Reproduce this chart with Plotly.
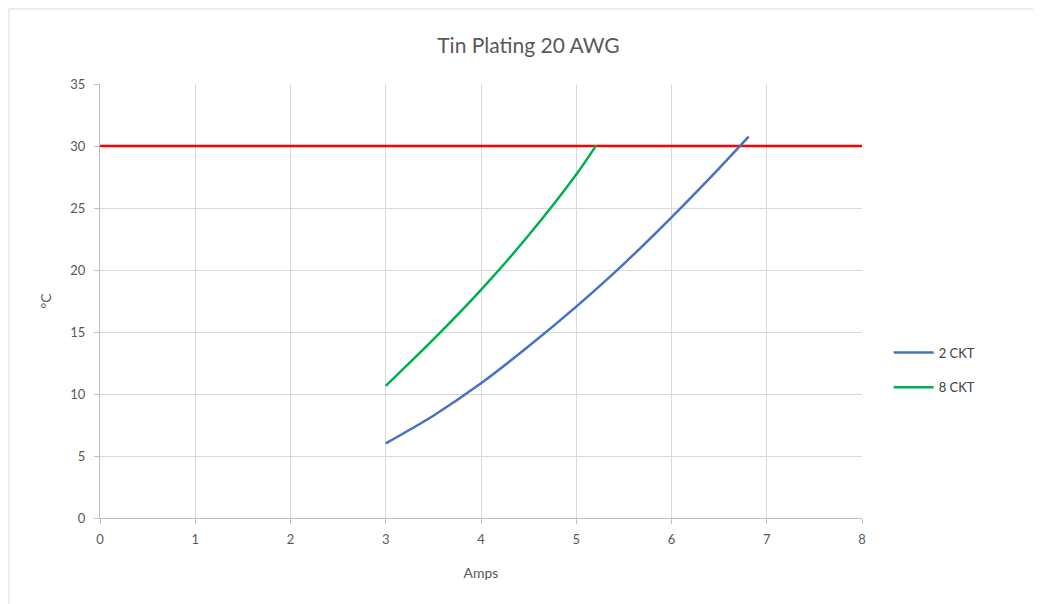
import plotly.graph_objects as go

amps_2ckt = [3.0, 3.5, 4.0, 4.5, 5.0, 5.5, 6.0, 6.5, 6.81]
temp_2ckt = [6.02, 8.25, 10.86, 13.85, 17.05, 20.5, 24.25, 28.2, 30.75]

amps_8ckt = [3.0, 3.5, 4.0, 4.5, 5.0, 5.21]
temp_8ckt = [10.65, 14.4, 18.4, 22.8, 27.7, 30.05]

limit_x = [0, 8]
limit_y = [30, 30]

FONT = "Lato"
GRAY = "#595959"

fig = go.Figure()
fig.add_trace(go.Scatter(x=limit_x, y=limit_y, mode="lines",
                         line=dict(color="#ff0000", width=2.5),
                         showlegend=False, hoverinfo="skip"))
fig.add_trace(go.Scatter(x=amps_2ckt, y=temp_2ckt, mode="lines", name="2 CKT",
                         legendgroup="a",
                         line=dict(color="#4472c4", width=2.5, shape="spline", smoothing=0.8)))
fig.add_trace(go.Scatter(x=amps_8ckt, y=temp_8ckt, mode="lines", name="8 CKT",
                         legendgroup="b",
                         line=dict(color="#00b050", width=2.5, shape="spline", smoothing=0.8)))

axis_common = dict(showgrid=True, gridcolor="#d9d9d9", gridwidth=1,
                   showline=True, linecolor="#bfbfbf", linewidth=1,
                   ticks="outside", tickcolor="#bfbfbf", ticklen=5,
                   tickfont=dict(family=FONT, size=13, color=GRAY),
                   zeroline=False)

fig.update_layout(
    width=1041, height=604,
    margin=dict(l=92, r=187, t=76, b=94),
    paper_bgcolor="white", plot_bgcolor="white",
    title=dict(text="Tin Plating 20 AWG", x=0.5, xanchor="center",
               y=1 - 38 / 604, yanchor="middle",
               font=dict(family=FONT, size=21, color=GRAY)),
    xaxis=dict(range=[0, 8], dtick=1, ticklabelstandoff=4,
               title=dict(text="Amps", font=dict(family=FONT, size=14, color=GRAY), standoff=22),
               **axis_common),
    yaxis=dict(range=[0, 35], dtick=5, ticklabelstandoff=6,
               title=dict(text="°C", font=dict(family=FONT, size=14, color=GRAY), standoff=15),
               **axis_common),
    legend=dict(x=1.035, y=(510 - 362) / 434, xanchor="left", yanchor="middle",
                font=dict(family=FONT, size=13, color="#404040"),
                bgcolor="rgba(0,0,0,0)", tracegroupgap=15, itemwidth=40),
    showlegend=True,
)

# outer chart frame
fig.add_shape(type="line", xref="paper", yref="paper",
              x0=(1 - 92) / 762, x1=(1041 - 92) / 762,
              y0=(510 - 1) / 434, y1=(510 - 1) / 434,
              line=dict(color="#d9d9d9", width=1))
fig.add_shape(type="line", xref="paper", yref="paper",
              x0=(1 - 92) / 762, x1=(1 - 92) / 762,
              y0=(510 - 1) / 434, y1=(510 - 604) / 434,
              line=dict(color="#d9d9d9", width=1))

fig.write_html("out.html")
